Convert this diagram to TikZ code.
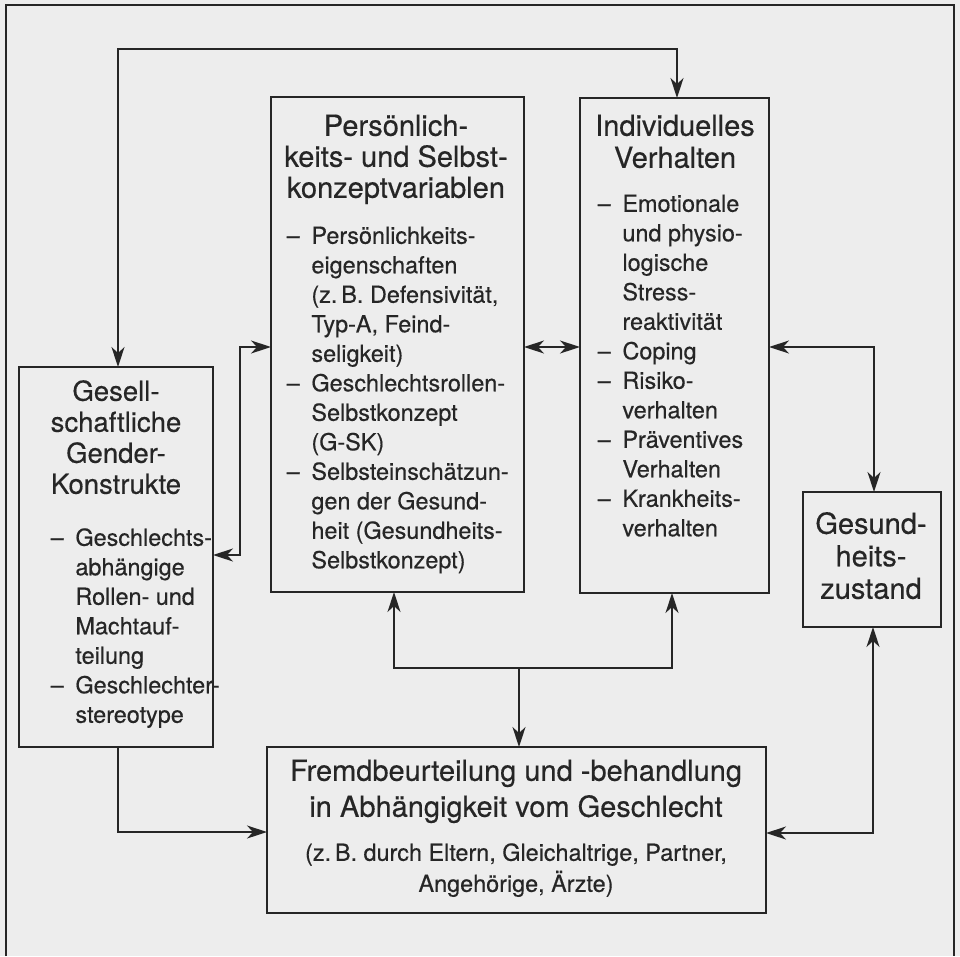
\documentclass[tikz,border=0pt]{standalone}
\usepackage{fontspec}
\setmainfont{TeX Gyre Heros}[FakeBold=0.4]
\usetikzlibrary{arrows.meta}
\definecolor{bg}{RGB}{237,237,237}
\definecolor{ink}{RGB}{38,38,38}
\newcommand{\dl}{–\enspace}
\newcommand{\ci}{\hphantom{–\enspace}}
\begin{document}
\begin{tikzpicture}[x=1pt,y=-1pt,
  line width=1.5pt,
  >={Stealth[length=20pt,width=13pt,inset=6pt]},
  conn/.style={draw=ink, line width=1.5pt},
  box/.style={draw=ink, line width=1.5pt, inner sep=0pt, outer sep=0pt},
  title/.style={font=\fontsize{29}{#1}\selectfont, align=center, inner sep=0pt, text=ink, anchor=north},
  stitle/.style={font=\fontsize{27.5}{#1}\selectfont, align=center, inner sep=0pt, text=ink, anchor=north},
  body/.style={font=\fontsize{23.4}{29.5}\selectfont, align=left, inner sep=0pt, text=ink, anchor=north west},
  cbody/.style={font=\fontsize{23.4}{30}\selectfont, align=center, inner sep=0pt, text=ink, anchor=north}]
\fill[bg] (0,0) rectangle (960,956);
\useasboundingbox (0,0) rectangle (960,956);

% outer frame
\draw[conn] (6,956) -- (6,5) -- (954,5) -- (954,956);

% boxes
\node[box, minimum width=194pt, minimum height=380pt] (gesell) at (116,557) {};
\node[box, minimum width=253pt, minimum height=495pt] (pers) at (397.5,344.5) {};
\node[box, minimum width=189pt, minimum height=495pt] (indiv) at (674.5,345.5) {};
\node[box, minimum width=138pt, minimum height=135pt] (gesund) at (872,559.5) {};
\node[box, minimum width=499pt, minimum height=166pt] (fremd) at (516.5,830) {};

% texts
\node[title=31] (perst) at (396,113.3) {\strut Persönlich-\\keits- und Selbst-\\konzeptvariablen};
\node[body] (persb) at (286,222.35) {\strut\dl Persönlichkeits-\\
\ci eigenschaften\\
\ci (z.\,B. Defensivität,\\
\ci Typ-A, Feind-\\
\ci seligkeit)\\
\dl Geschlechtsrollen-\\
\ci Selbstkonzept\\
\ci (G-SK)\\
\dl Selbsteinschätzun-\\
\ci gen der Gesund-\\
\ci heit (Gesundheits-\\
\ci Selbstkonzept)};

\node[title=32] (indivt) at (675,112.6) {\strut Individuelles\\Verhalten};
\node[body] (indivb) at (597,190.35) {\strut\dl Emotionale\\
\ci und physio-\\
\ci logische\\
\ci Stress-\\
\ci reaktivität\\
\dl Coping\\
\dl Risiko-\\
\ci verhalten\\
\dl Präventives\\
\ci Verhalten\\
\dl Krankheits-\\
\ci verhalten};

\node[stitle=31] (gesellt) at (116,378.3) {\strut Gesell-\\schaftliche\\Gender-\\Konstrukte};
\node[body] (gesellb) at (50,524.35) {\strut\dl Geschlechts-\\
\ci abhängige\\
\ci Rollen- und\\
\ci Machtauf-\\
\ci teilung\\
\dl Geschlechter-\\
\ci stereotype};

\node[title=32.5] (gesundt) at (871,510.25) {\strut Gesund-\\heits-\\zustand};

\node[title=36] (fremdt) at (516,754.8) {\strut Fremdbeurteilung und -behandlung\\in Abhängigkeit vom Geschlecht};
\node[cbody] (fremdb) at (516,839) {\strut(z.\,B. durch Eltern, Gleichaltrige, Partner,\\Angehörige, Ärzte)};

% connector coordinates
\coordinate (t1) at (118,49);
\coordinate (t2) at (677,49);
\coordinate (b1) at (240,347);
\coordinate (b2) at (240,555);
\coordinate (d1) at (874,347);
\coordinate (e1) at (118,832);
\coordinate (j) at (519,668);
\coordinate (f1) at (394,668);
\coordinate (f2) at (672,668);
\coordinate (g1) at (873,833);

% connectors
\draw[conn,<->] (gesell.north -| t1) -- (t1) -- (t2) -- (indiv.north -| t2);
\draw[conn,<->] (b1 -| pers.west) -- (b1) -- (b2) -- (b2 -| gesell.east);
\draw[conn,<->] (b1 -| pers.east) -- (b1 -| indiv.west);
\draw[conn,<->] (d1 -| indiv.east) -- (d1) -- (gesund.north -| d1);
\draw[conn,->] (gesell.south -| e1) -- (e1) -- (e1 -| fremd.west);
\draw[conn,->] (j) -- (fremd.north -| j);
\draw[conn,->] (j) -- (f1) -- (pers.south -| f1);
\draw[conn,->] (j) -- (f2) -- (indiv.south -| f2);
\draw[conn,<->] (gesund.south -| g1) -- (g1) -- (g1 -| fremd.east);
\end{tikzpicture}
\end{document}
